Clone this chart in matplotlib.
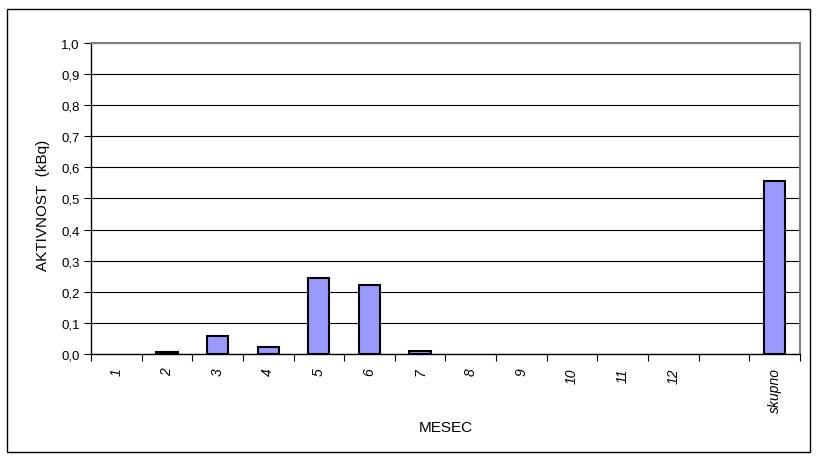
import matplotlib
matplotlib.use("Agg")
import matplotlib.pyplot as plt
from matplotlib.patches import Rectangle
from matplotlib.ticker import FixedLocator, NullFormatter

plt.rcParams['font.family'] = ['Liberation Sans', 'DejaVu Sans']

categories = ['1', '2', '3', '4', '5', '6', '7', '8', '9', '10', '11', '12', '', 'skupno']
values = [0.0, 0.007, 0.057, 0.021, 0.244, 0.222, 0.010, 0.0, 0.0, 0.0, 0.0, 0.0, 0.0, 0.557]
y_ticks = [0.0, 0.1, 0.2, 0.3, 0.4, 0.5, 0.6, 0.7, 0.8, 0.9, 1.0]
y_tick_labels = ['0,0', '0,1', '0,2', '0,3', '0,4', '0,5', '0,6', '0,7', '0,8', '0,9', '1,0']

fig = plt.figure(figsize=(8.17, 4.64), dpi=100)
# chart frame
fig.patches.append(Rectangle((0.0086, 0.0237), 0.9828, 0.9547, transform=fig.transFigure,
                             fill=False, edgecolor='black', linewidth=1.0))

ax = fig.add_axes([0.1114, 0.2349, 0.8676, 0.6703])
n = len(categories)
x = list(range(n))
edge_widths = [1.5 if v > 0 else 0.0 for v in values]
ax.bar(x, values, width=0.42, color='#9999FF', edgecolor='black',
       linewidth=edge_widths, zorder=3)

ax.set_xlim(-0.5, n - 0.5)
ax.set_ylim(0, 1.0)
ax.set_yticks(y_ticks)
ax.set_yticklabels(y_tick_labels, fontsize=9.5)
ax.yaxis.grid(True, color='black', linewidth=0.8, zorder=0)

# category boundaries carry the tick marks; labels sit at category centres
ax.xaxis.set_major_locator(FixedLocator([i - 0.5 for i in range(n + 1)]))
ax.xaxis.set_major_formatter(NullFormatter())
ax.tick_params(axis='x', which='major', length=5, direction='out', width=0.8)
ax.tick_params(axis='y', length=5, direction='out', width=0.8, pad=3)
for i, lab in enumerate(categories):
    ax.text(i, -0.042, lab, rotation=90, rotation_mode='anchor', ha='right', va='center',
            fontsize=10, fontstyle='italic', transform=ax.transData, clip_on=False)

for side in ['top', 'right']:
    ax.spines[side].set_color('#808080')
    ax.spines[side].set_linewidth(1.5)
for side in ['left', 'bottom']:
    ax.spines[side].set_color('black')
    ax.spines[side].set_linewidth(1.0)

ax.text(0.5, -0.235, 'MESEC', transform=ax.transAxes, ha='center', va='center', fontsize=11)
ax.text(-0.068, 0.482, 'AKTIVNOST  (kBq)', transform=ax.transAxes, rotation=90,
        ha='center', va='center', fontsize=11)

fig.savefig('out.png', dpi=100)
